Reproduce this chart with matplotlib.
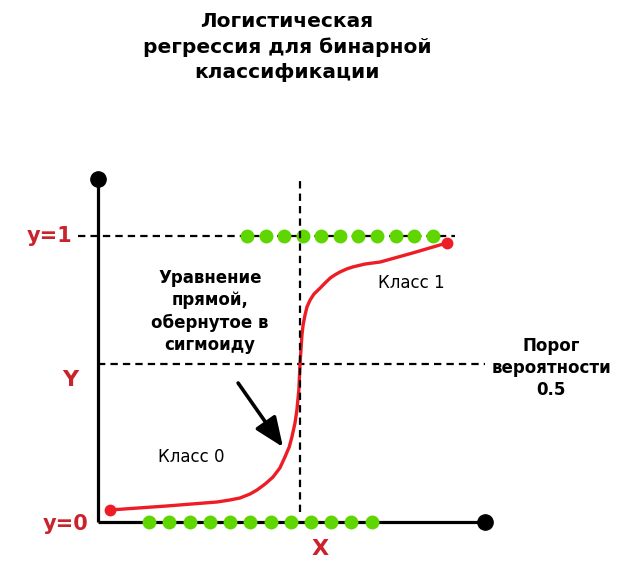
import matplotlib
matplotlib.use("Agg")
import matplotlib.pyplot as plt

plt.rcParams['font.family'] = ['DejaVu Sans']

# ---- data (chart units: x 0..10 along X axis, y 0..1 between classes) ----
curve_x = [0.31, 1.78, 3.08, 3.41, 3.67, 3.93, 4.11, 4.32, 4.52, 4.70, 4.83, 4.94,
           5.01, 5.09, 5.14, 5.19, 5.22, 5.27, 5.30, 5.35, 5.40, 5.48, 5.58, 5.74,
           5.87, 6.00, 6.12, 6.25, 6.43, 6.59, 6.90, 7.29, 8.14, 9.02]
curve_y = [0.042, 0.056, 0.070, 0.077, 0.084, 0.098, 0.112, 0.133, 0.157, 0.189, 0.227, 0.262,
           0.297, 0.346, 0.392, 0.462, 0.552, 0.654, 0.689, 0.724, 0.752, 0.776, 0.797, 0.818,
           0.836, 0.853, 0.864, 0.874, 0.885, 0.892, 0.902, 0.909, 0.941, 0.976]

class1_x = [3.85, 4.33, 4.81, 5.29, 5.77, 6.25, 6.73, 7.21, 7.69, 8.17, 8.66]
class1_y = [1.0] * len(class1_x)
class0_x = [1.32, 1.84, 2.37, 2.89, 3.41, 3.94, 4.46, 4.98, 5.50, 6.03, 6.55, 7.08]
class0_y = [0.0] * len(class0_x)

threshold_y = 0.552
boundary_x = 5.22
axis_x_max = 10.0
axis_y_max = 1.2

labels_y = ["y=1", "Y", "y=0"]
label_x = "X"
title = "Логистическая\nрегрессия для бинарной\nклассификации"
eq_text = "Уравнение\nпрямой,\nобернутое в\nсигмоиду"
thr_text = "Порог\nвероятности\n0.5"
class_labels = ["Класс 1", "Класс 0"]

RED_TXT = "#c9232b"
RED = "#ee1d25"
GREEN = "#5fd600"

fig = plt.figure(figsize=(6.23, 5.62), dpi=100)
ax = fig.add_axes([0, 0, 1, 1])
sx, sy = 38.7, 286.0
ax.set_xlim(-98 / sx, (623 - 98) / sx)
ax.set_ylim(-40 / sy, 522 / sy)
ax.axis("off")

dash = dict(color="black", lw=1.6, dashes=(3.3, 2.3))

# horizontal dashed lines
ax.plot([-0.52, 9.22], [1.0, 1.0], zorder=1, **dash)
ax.plot([0, axis_x_max], [threshold_y, threshold_y], zorder=1, **dash)

# axes
ax.plot([0, 0], [0, axis_y_max], color="black", lw=2.3, zorder=2, solid_capstyle="butt")
ax.plot([0, axis_x_max], [0, 0], color="black", lw=2.3, zorder=2, solid_capstyle="butt")
ax.plot([0], [axis_y_max], "o", color="black", ms=11, zorder=3)
ax.plot([axis_x_max], [0], "o", color="black", ms=11, zorder=3)

# sigmoid curve
ax.plot(curve_x, curve_y, color=RED, lw=2.4, zorder=4, solid_joinstyle="round")
ax.plot([curve_x[0], curve_x[-1]], [curve_y[0], curve_y[-1]], "o", color=RED, ms=7.5, zorder=5)

# class points
ax.plot(class1_x, class1_y, "o", color=GREEN, ms=10, zorder=5, mec="none")
ax.plot(class0_x, class0_y, "o", color=GREEN, ms=10, zorder=5, mec="none")

# vertical dashed boundary
ax.plot([boundary_x, boundary_x], [0.035, 1.196], zorder=6, **dash)

# labels
ax.text(-1.24, 1.0, labels_y[0], color=RED_TXT, fontsize=15, fontweight="bold",
        ha="center", va="center")
ax.text(-0.72, 0.497, labels_y[1], color=RED_TXT, fontsize=16, fontweight="bold",
        ha="center", va="center")
ax.text(-0.83, -0.007, labels_y[2], color=RED_TXT, fontsize=15, fontweight="bold",
        ha="center", va="center")
ax.text(5.74, -0.094, label_x, color=RED_TXT, fontsize=16, fontweight="bold",
        ha="center", va="center")

fig.text(287 / 623, 1 - 47 / 562, title, fontsize=14.5, fontweight="bold",
         ha="center", va="center", linespacing=1.4)

ax.text(2.894, 0.736, eq_text, fontsize=12, fontweight="bold", ha="center",
        va="center", linespacing=1.3)
ax.text(11.71, 0.538, thr_text, fontsize=12, fontweight="bold", ha="center",
        va="center", linespacing=1.3)
ax.text(8.09, 0.836, class_labels[0], fontsize=12, ha="center", va="center")
ax.text(2.40, 0.227, class_labels[1], fontsize=12, ha="center", va="center")

ax.annotate("", xy=(4.78, 0.262), xytext=(3.62, 0.486),
            arrowprops=dict(arrowstyle="-|>,head_length=1.8,head_width=0.75",
                            color="black", lw=2.6, shrinkA=0, shrinkB=0),
            zorder=6)

fig.savefig("out.png", dpi=100)
